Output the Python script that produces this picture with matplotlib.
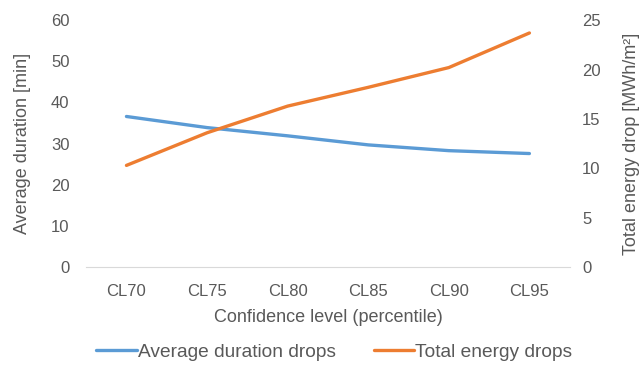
import matplotlib
matplotlib.use('Agg')
import matplotlib.pyplot as plt

categories = ['CL70', 'CL75', 'CL80', 'CL85', 'CL90', 'CL95']
avg_duration = [36.6, 33.9, 31.9, 29.7, 28.3, 27.6]
total_energy = [10.3, 13.6, 16.3, 18.2, 20.2, 23.7]

blue = '#5B9BD5'
orange = '#ED7D31'
grey = '#595959'

plt.rcParams['font.family'] = ['Liberation Sans', 'DejaVu Sans']

fig = plt.figure(figsize=(6.43, 3.66), dpi=100)
ax = fig.add_axes([0.134, 0.27, 0.752, 0.675])
ax2 = ax.twinx()

x = range(len(categories))
l1, = ax.plot(x, avg_duration, color=blue, lw=2.4, solid_capstyle='round', label='Average duration drops')
l2, = ax2.plot(x, total_energy, color=orange, lw=2.4, solid_capstyle='round', label='Total energy drops')

ax.set_xlim(-0.5, len(categories) - 0.5)
ax.set_ylim(0, 60)
ax2.set_ylim(0, 25)
ax.set_yticks(range(0, 61, 10))
ax2.set_yticks(range(0, 26, 5))
ax.set_xticks(list(x))
ax.set_xticklabels(categories)

for a in (ax, ax2):
    for s in a.spines.values():
        s.set_visible(False)
    a.tick_params(length=0, labelsize=12, colors=grey, pad=12)
ax.spines['bottom'].set_visible(True)
ax.spines['bottom'].set_color('#D9D9D9')
ax.tick_params(axis='x', pad=12)
ax2.tick_params(axis='y', pad=9)

ax.set_xlabel('Confidence level (percentile)', fontsize=13, color=grey, labelpad=7)
ax.set_ylabel('Average duration [min]', fontsize=13, color=grey, labelpad=14)
ax2.set_ylabel('Total energy drop [MWh/m²]', fontsize=13, color=grey, labelpad=16)

fig.legend([l1, l2], ['Average duration drops', 'Total energy drops'], loc='center',
           bbox_to_anchor=(0.52, 0.037), ncol=2, frameon=False, fontsize=13.8,
           labelcolor=grey, handlelength=2.1, handletextpad=0.05, columnspacing=2.0)

fig.savefig('out.png', dpi=100)
